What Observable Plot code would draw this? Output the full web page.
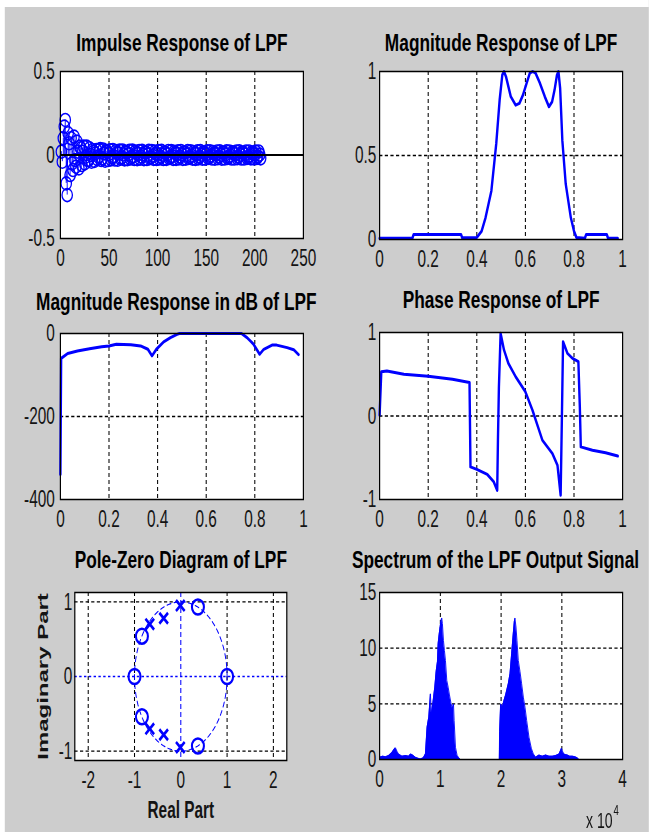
<!DOCTYPE html>
<html><head><meta charset="utf-8">
<script src="https://cdn.jsdelivr.net/npm/d3@7"></script>
<script src="https://cdn.jsdelivr.net/npm/@observablehq/plot@0.6"></script>
<style>
html,body{margin:0;padding:0;overflow:hidden;background:#fff;width:649px;height:832px;}
#fig{position:absolute;left:0;top:0;width:811.25px;height:832px;transform:scaleX(0.8);transform-origin:0 0;background:#cdcdcd;}
.strip{position:absolute;background:#fff;}
</style></head><body><div id="fig"><div class="strip" style="left:0;top:0;width:811.25px;height:7px"></div><div class="strip" style="left:0;top:0;width:6px;height:832px"></div></div>
<script>
// ---------- data ----------
const impulseValues = [
0.02,-0.04,0.10,0.17,0.21,-0.17,-0.24,0.13,0.07,-0.12,
0.10,-0.05,-0.09,0.11,-0.03,-0.07,0.08,0.02,-0.08,0.05,
0.04,-0.06,0.02,0.05,-0.05,-0.01,0.05,-0.03,-0.03,0.04,
0.00,-0.04,0.03,0.02,-0.035,0.01,0.03,-0.025,-0.01,0.03,
0.035,-0.03,-0.02,0.033,0.01,-0.034,0.024,0.02,-0.03,0.006,
0.028,-0.026,-0.012,0.029,-0.008,-0.027,0.023,0.012,-0.028,0.009,
0.026,-0.022,-0.015,0.027,0.003,-0.026,0.019,0.015,-0.025,0.004,
0.025,-0.021,-0.012,0.026,-0.006,-0.024,0.02,0.011,-0.025,0.007,
0.024,-0.022,-0.009,0.025,0.004,-0.025,0.017,0.014,-0.024,0.002,
0.025,-0.019,-0.014,0.024,-0.004,-0.023,0.02,0.009,-0.024,0.006,
0.023,-0.021,-0.011,0.025,0.002,-0.024,0.016,0.012,-0.023,0.004,
0.024,-0.018,-0.012,0.023,-0.006,-0.023,0.019,0.011,-0.023,0.007,
0.022,-0.02,-0.009,0.024,0.004,-0.023,0.016,0.014,-0.022,0.002,
0.023,-0.018,-0.012,0.022,-0.004,-0.022,0.018,0.009,-0.023,0.006,
0.022,-0.02,-0.011,0.023,0.002,-0.022,0.016,0.011,-0.022,0.004,
0.022,-0.017,-0.012,0.022,-0.004,-0.021,0.018,0.009,-0.022,0.006,
0.021,-0.019,-0.009,0.022,0.002,-0.022,0.015,0.012,-0.021,0.004,
0.022,-0.017,-0.011,0.021,-0.004,-0.021,0.016,0.009,-0.021,0.006,
0.021,-0.019,-0.009,0.022,0.002,-0.021,0.015,0.011,-0.021,0.004,
0.021,-0.017,-0.011,0.021,-0.004,-0.02,0.016,0.009,-0.02,0.006,
0.02,-0.018,-0.009,0.021,0.002,-0.02
];
const impulseXTicks = [0,50,100,150,200,250];
const impulseYTicks = [-0.5,0,0.5];

const magFreq  = [0,0.135,0.14,0.335,0.34,0.39,0.40,0.42,0.436,0.46,0.48,0.494,0.505,0.512,0.52,0.54,0.56,0.575,0.59,0.605,0.618,0.63,0.642,0.66,0.68,0.697,0.71,0.72,0.73,0.736,0.743,0.752,0.766,0.787,0.80,0.81,0.845,0.85,0.935,0.94,0.98];
const magValue = [0.008,0.008,0.03,0.03,0.01,0.01,0.012,0.05,0.13,0.29,0.57,0.83,0.98,1.0,0.97,0.85,0.80,0.81,0.86,0.93,0.99,1.0,0.99,0.93,0.85,0.79,0.82,0.89,0.98,1.0,0.9,0.59,0.33,0.13,0.05,0.012,0.008,0.03,0.03,0.008,0.008];

const dbFreq  = [0,0.003,0.03,0.07,0.12,0.17,0.2,0.23,0.29,0.33,0.36,0.377,0.395,0.425,0.453,0.48,0.49,0.745,0.768,0.795,0.82,0.837,0.871,0.89,0.933,0.96,0.98];
const dbValue = [-340,-60,-48,-42,-37,-32,-30,-26,-27,-30,-38,-54,-38,-20,-10,-2,0,0,-10,-26,-50,-38,-28,-28,-34,-39,-51];

const phaseFreq  = [0,0.007,0.03,0.1,0.2,0.3,0.37,0.374,0.40,0.443,0.47,0.484,0.487,0.491,0.498,0.512,0.53,0.56,0.60,0.629,0.67,0.711,0.732,0.745,0.75,0.755,0.773,0.794,0.818,0.824,0.828,0.876,0.93,0.98];
const phaseValue = [0.01,0.53,0.54,0.5,0.476,0.44,0.40,-0.61,-0.64,-0.70,-0.79,-0.89,-0.29,0.35,0.99,0.79,0.63,0.47,0.29,0.07,-0.29,-0.45,-0.59,-0.95,-0.05,0.89,0.75,0.69,0.65,0.11,-0.37,-0.41,-0.44,-0.48];

const freqTicks = [0,0.2,0.4,0.6,0.8,1];

const zeroRe = [0.37,0.37,-0.84,-0.84,-1,1];
const zeroIm = [0.93,-0.93,0.54,-0.54,0,0];
const poleRe = [-0.01,-0.01,-0.37,-0.37,-0.67,-0.67];
const poleIm = [0.95,-0.95,0.78,-0.78,0.70,-0.70];

const specFreq = [0,500,1000,1500,2000,2300,2600,2900,3100,3700,4300,4800,5100,5450,5900,6300,6700,7200,7540,7810,8090,8360,8530,8750,9080,9300,9520,9630,9790,9960,10070,10230,10340,10510,10670,10840,11060,11280,11500,11770,11990,12160,12270,12490,12760,13040,13300,19700,19750,19920,20190,20470,20740,21180,21460,21730,21950,22170,22280,22450,22610,22830,23110,23380,23660,23930,24210,24590,24980,25310,25690,26250,26800,27350,27900,28450,29000,29550,29930,30210,30500,30920,31300,31750,32150,32570,32800];
const specMag  = [0.2,0.3,0.25,0.35,0.6,0.85,1.05,0.7,0.5,0.3,0.35,0.3,0.5,0.4,0.2,0.12,0.05,0.15,0.5,2.9,3.8,5.9,4.1,5.0,6.5,7.9,8.8,10.4,11.2,11.9,12.4,12.7,12.2,10.7,9.8,8.9,7.1,6.5,5.8,5.0,4.6,5.0,3.5,1.1,0.36,0.15,0,0,2.5,5.0,4.7,5.3,5.8,6.8,7.7,9.5,11.0,12.4,12.7,11.9,10.7,8.9,7.9,6.8,5.6,4.7,3.5,2.0,1.0,0.5,0.2,0.4,0.3,0.4,0.3,0.3,0.35,0.5,1.0,0.6,0.45,0.4,0.3,0.3,0.25,0.15,0];
const specXTicks = [0,10000,20000,30000,40000];
const specYTicks = [0,5,10,15];

const titles = ["Impulse Response of LPF","Magnitude Response of LPF","Magnitude Response in dB of LPF","Phase Response of LPF","Pole-Zero Diagram of LPF","Spectrum of the LPF Output Signal"];

// ---------- helpers ----------
const BLUE = "#0000ff";
const FONT = '"Liberation Sans", Arial, Helvetica, sans-serif';
const K = 0.8;   // extra horizontal squash of tick/axis-label text
const KT = 0.92; // extra horizontal squash of titles
const fig = document.getElementById("fig");
const fmt = d => String(d);
const grid = (vals, dir) => (dir === "x" ? Plot.ruleX : Plot.ruleY)(vals, {stroke: "#000", strokeDasharray: "4,3", strokeWidth: 1.3});
const titleMark = (t, dy, dx = 0) => Plot.text([t], {text: d => d, frameAnchor: "top", dy, dx, lineAnchor: "bottom", fontWeight: "bold", fontSize: 23.5, fill: "#000"});

function addScale(t, sx, sy) {
  const tr = t.getAttribute("transform") || "";
  const x = parseFloat(t.getAttribute("x")) || 0;
  t.setAttribute("transform", `${tr} translate(${x},0) scale(${sx},${sy}) translate(${-x},0)`);
}
function make({left, top, w, h, mL = 80, mR = 20, mT = 50, mB = 45, x, y, marks, padY = 7}) {
  const svg = Plot.plot({
    width: w + mL + mR, height: h + mT + mB,
    marginLeft: mL, marginRight: mR, marginTop: mT, marginBottom: mB,
    x: {tickSize: 0, tickPadding: 10, label: null, tickFormat: fmt, ...x},
    y: {tickSize: 0, tickPadding: padY, label: null, tickFormat: fmt, ...y},
    style: {background: "transparent", fontFamily: FONT, fontSize: "24px", color: "#141414", overflow: "visible"},
    marks
  });
  svg.querySelectorAll('g[aria-label*="tick label"] text').forEach(t => addScale(t, K, 1));
  svg.querySelectorAll('text').forEach(t => {
    const c = t.textContent;
    if (t.closest('g[aria-label*="tick label"]')) return;
    if (c === "Real Part" || c === "x 10" || c === "4") addScale(t, K, 1);
    if (titles.includes(c)) addScale(t, KT, 1);
    if (c === "Imaginary Part") { const tr = t.getAttribute("transform") || ""; t.setAttribute("transform", tr + ` scale(1,${K})`); }
  });
  svg.style.position = "absolute";
  svg.style.left = (left - mL) + "px";
  svg.style.top = (top - mT) + "px";
  fig.append(svg);
}
const bg = Plot.frame({fill: "white", stroke: "none"});
const box = Plot.frame({stroke: "#000", strokeWidth: 1.5, fill: "none"});

// ---------- 1: impulse response ----------
const impulse = impulseValues.map((v, i) => ({n: i + 1, h: v}));
make({left: 75, top: 71, w: 303.75, h: 167,
  x: {domain: [0, 250], ticks: impulseXTicks}, y: {domain: [-0.5, 0.5], ticks: impulseYTicks},
  marks: [bg, grid([50,100,150,200], "x"),
    Plot.ruleX(impulse, {x: "n", y1: 0, y2: "h", stroke: BLUE, strokeWidth: 1}),
    Plot.dot(impulse, {x: "n", y: "h", r: 6.5, stroke: BLUE, strokeWidth: 1.6, fill: "none"}),
    Plot.ruleY([0], {stroke: "#000", strokeWidth: 2.2}),
    box, titleMark(titles[0], -21)]});

// ---------- 2: magnitude ----------
const mag = magFreq.map((f, i) => ({f, v: magValue[i]}));
make({left: 473.75, top: 71, w: 303.75, h: 168, padY: 4,
  x: {domain: [0, 1], ticks: freqTicks}, y: {domain: [0, 1], ticks: [0, 0.5, 1]},
  marks: [bg, grid([0.2,0.4,0.6,0.8], "x"), grid([0.5], "y"),
    Plot.line(mag, {x: "f", y: "v", stroke: BLUE, strokeWidth: 3}),
    box, titleMark(titles[1], -21)]});

// ---------- 3: magnitude dB ----------
const db = dbFreq.map((f, i) => ({f, v: dbValue[i]}));
make({left: 75, top: 333, w: 303.75, h: 166,
  x: {domain: [0, 1], ticks: freqTicks}, y: {domain: [-400, 0], ticks: [-400, -200, 0]},
  marks: [bg, grid([0.2,0.4,0.6,0.8], "x"), grid([-200], "y"),
    Plot.line(db, {x: "f", y: "v", stroke: BLUE, strokeWidth: 3}),
    box, titleMark(titles[2], -24, -7)]});

// ---------- 4: phase ----------
const ph = phaseFreq.map((f, i) => ({f, v: phaseValue[i]}));
make({left: 473.75, top: 332, w: 303.75, h: 167, padY: 4,
  x: {domain: [0, 1], ticks: freqTicks}, y: {domain: [-1, 1], ticks: [-1, 0, 1]},
  marks: [bg, grid([0.2,0.4,0.6,0.8], "x"), grid([0], "y"),
    Plot.line(ph, {x: "f", y: "v", stroke: BLUE, strokeWidth: 3}),
    box, titleMark(titles[3], -25)]});

// ---------- 5: pole-zero ----------
const zerosPts = zeroRe.map((r, i) => ({re: r, im: zeroIm[i]}));
const polesPts = poleRe.map((r, i) => ({re: r, im: poleIm[i]}));
const unitCircle = d3.range(0, 361, 2).map(a => ({re: Math.cos(a * Math.PI / 180), im: Math.sin(a * Math.PI / 180)}));
make({left: 92.5, top: 592, w: 265, h: 168, mB: 70, padY: 3,
  x: {domain: [-2.29, 2.29], ticks: [-2, -1, 0, 1, 2]}, y: {domain: [-1.125, 1.125], ticks: [-1, 0, 1]},
  marks: [bg, grid([-2,-1,1,2], "x"), grid([-1, 1], "y"),
    Plot.line(unitCircle, {x: "re", y: "im", stroke: BLUE, strokeWidth: 1.2, strokeDasharray: "5,4"}),
    Plot.ruleY([0], {stroke: BLUE, strokeWidth: 1.5, strokeDasharray: "3,3"}),
    Plot.ruleX([0], {stroke: BLUE, strokeWidth: 1.3, strokeDasharray: "5,3"}),
    Plot.dot(zerosPts, {x: "re", y: "im", r: 7.5, stroke: BLUE, strokeWidth: 2.6, fill: "none"}),
    Plot.dot(polesPts, {x: "re", y: "im", r: 5, symbol: "times", stroke: BLUE, strokeWidth: 3}),
    box, titleMark(titles[4], -25),
    Plot.text(["Real Part"], {text: d => d, frameAnchor: "bottom", dy: 57, lineAnchor: "bottom", fontWeight: "bold", fontSize: 24, fill: "#141414"}),
    Plot.text(["Imaginary Part"], {text: d => d, frameAnchor: "left", dx: -40, rotate: -90, lineAnchor: "middle", textAnchor: "middle", fontWeight: "bold", fontSize: 24, fill: "#141414"})]});

// ---------- 6: spectrum ----------
const spec = specFreq.map((f, i) => ({f, v: specMag[i]}));
make({left: 473.75, top: 592, w: 303.75, h: 167, mB: 80, padY: 4,
  x: {domain: [0, 40000], ticks: specXTicks, tickFormat: d => String(d / 10000)}, y: {domain: [0, 15], ticks: specYTicks},
  marks: [bg, grid([10000, 20000, 30000], "x"), grid([5, 10], "y"),
    Plot.areaY(spec, {x: "f", y: "v", fill: BLUE}),
    Plot.line(spec, {x: "f", y: "v", stroke: BLUE, strokeWidth: 1}),
    box, titleMark(titles[5], -25, -7),
    Plot.text(["x 10"], {text: d => d, frameAnchor: "bottom-right", dx: -12.5, dy: 68, textAnchor: "end", lineAnchor: "bottom", fontSize: 22, fill: "#141414"}),
    Plot.text(["4"], {text: d => d, frameAnchor: "bottom-right", dx: -11.5, dy: 55, textAnchor: "start", lineAnchor: "bottom", fontSize: 15, fill: "#141414"})]});
</script></body></html>
